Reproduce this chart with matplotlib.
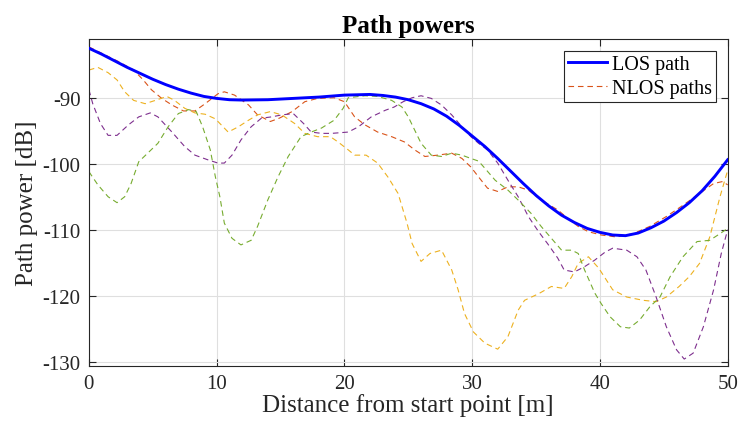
import matplotlib
matplotlib.use("Agg")
import matplotlib.pyplot as plt

plt.rcParams['font.family'] = ['Liberation Serif', 'DejaVu Serif']
plt.rcParams['axes.unicode_minus'] = False

# LOS path
los_x = [0, 1, 2, 3, 4, 5, 6, 7, 8, 9, 10, 11, 12, 14, 16, 18, 20, 22, 23, 24, 25, 26, 27, 28, 29,
         30, 31, 32, 33, 34, 35, 36, 37, 38, 39, 40, 41, 42, 43, 44, 45, 46, 47, 48, 49, 50]
los_y = [-82.5, -83.4, -84.4, -85.4, -86.3, -87.2, -88.0, -88.7, -89.3, -89.8, -90.1, -90.3, -90.35,
         -90.3, -90.1, -89.9, -89.6, -89.5, -89.65, -89.9, -90.3, -90.9, -91.7, -92.8, -94.2,
         -95.8, -97.4, -99.2, -101.1, -103.0, -104.8, -106.4, -107.8, -108.9, -109.8, -110.4,
         -110.8, -110.9, -110.5, -109.7, -108.7, -107.4, -105.9, -104.1, -101.9, -99.4]

# NLOS paths
nlos1_x = [0, 2.3, 3.5, 4.25, 4.9, 5.7, 6.5, 7.4, 8.3, 9.1, 10.1, 10.6, 11.4, 12.5, 13.2, 14.2, 14.9,
           15.9, 16.9, 17.9, 19.2, 20.0, 20.8, 21.6, 22.6, 23.7, 24.7, 25.5, 26.3, 27.3, 28.4, 29.2,
           29.9, 30.5, 31.2, 32.0, 32.8, 33.6, 34.4, 35.4, 36.7, 37.5, 38.3, 39.1, 40.1, 41.3, 42.6,
           43.9, 45.2, 46.5, 47.8, 48.9, 49.6, 50]
nlos1_y = [-82.3, -84.5, -85.8, -87.3, -88.8, -90.1, -91.1, -92.0, -92.0, -90.9, -89.4, -89.1, -89.6,
           -91.1, -92.6, -93.6, -93.1, -92.1, -90.6, -90.1, -90.0, -90.6, -92.9, -94.1, -95.2, -95.9,
           -96.7, -97.9, -98.9, -98.7, -98.4, -99.2, -100.5, -102.0, -103.7, -104.2, -103.5, -103.5,
           -104.0, -105.5, -107.0, -108.3, -109.5, -110.3, -110.8, -111.1, -110.6, -109.5, -108.0,
           -106.3, -104.5, -103.0, -102.7, -103.2]

nlos2_x = [0, 0.7, 1.5, 2.2, 2.8, 3.5, 4.4, 5.2, 6.1, 6.7, 7.5, 8.3, 9.1, 9.9, 10.9, 11.7, 12.5, 13.2,
           14.2, 15.1, 16.1, 16.9, 17.9, 18.9, 19.5, 20.3, 20.8, 21.7, 22.6, 23.4, 24.2, 24.9, 25.3,
           26.0, 26.7, 27.6, 28.4, 28.9, 29.4, 30.1, 31.0, 32.0, 32.8, 33.6, 34.1, 35.2, 36.2, 37.2,
           37.8, 38.3, 39.1, 39.9, 41.0, 42.1, 43.4, 44.4, 45.2, 46.2, 47.0, 47.8, 48.6, 49.4, 50]
nlos2_y = [-85.8, -85.4, -86.2, -87.3, -89.1, -90.4, -90.9, -90.4, -89.8, -90.4, -91.6, -92.3, -92.5,
           -93.2, -95.2, -94.4, -93.4, -92.6, -92.1, -92.6, -93.9, -95.4, -95.9, -95.9, -96.7, -97.9,
           -98.7, -98.7, -99.9, -102.0, -104.5, -109.0, -112.1, -114.8, -113.6, -113.1, -116.1,
           -119.1, -122.7, -125.5, -127.2, -128.1, -126.2, -122.2, -120.7, -119.7, -118.6, -118.9,
           -117.1, -115.1, -114.1, -115.8, -119.1, -120.2, -120.7, -120.9, -120.2, -118.6, -117.1,
           -115.1, -111.1, -105.0, -101.0]

nlos3_x = [0, 0.3, 0.9, 1.5, 2.2, 3.1, 3.9, 4.8, 5.4, 6.5, 7.5, 8.3, 9.3, 10.1, 10.6, 11.2, 11.9, 12.7,
           13.5, 14.3, 15.1, 16.0, 16.8, 17.4, 18.2, 19.0, 20.3, 21.1, 22.1, 23.2, 23.9, 24.6, 25.3,
           26.0, 26.8, 27.6, 28.4, 29.2, 29.9, 30.5, 31.2, 32.0, 32.8, 33.6, 34.4, 35.2, 35.9, 36.7,
           37.2, 38.0, 38.8, 39.6, 40.4, 41.0, 42.1, 42.9, 43.6, 44.4, 45.2, 46.0, 46.6, 47.3, 48.1,
           48.9, 49.5, 50]
nlos3_y = [-88.8, -90.9, -93.9, -95.7, -95.7, -94.1, -92.9, -92.3, -92.9, -95.2, -97.4, -98.7, -99.4,
           -99.9, -99.9, -98.7, -96.4, -94.4, -93.1, -92.9, -92.6, -92.4, -93.9, -95.2, -95.4, -95.4,
           -95.2, -94.4, -92.9, -91.9, -91.4, -90.6, -90.0, -89.7, -90.1, -91.1, -92.6, -94.4, -95.9,
           -96.9, -97.9, -99.9, -102.5, -105.0, -108.0, -110.3, -112.1, -114.3, -116.1, -116.4,
           -115.6, -114.6, -113.4, -112.8, -113.1, -114.1, -116.1, -120.2, -124.7, -128.2, -129.6,
           -128.7, -124.7, -119.1, -113.6, -110.0]

nlos4_x = [0, 0.7, 1.5, 2.2, 2.8, 3.3, 3.9, 4.6, 5.4, 6.2, 7.0, 7.8, 8.4, 8.9, 9.5, 9.9, 10.25, 10.6,
           11.2, 11.9, 12.7, 13.2, 14.0, 14.8, 15.6, 16.6, 17.4, 18.2, 19.2, 19.9, 20.3, 21.6, 22.6,
           23.7, 24.5, 25.0, 25.5, 26.0, 26.8, 27.6, 28.4, 29.2, 29.9, 30.5, 31.0, 31.8, 32.8, 33.6,
           34.6, 35.4, 36.2, 37.0, 37.8, 38.3, 38.8, 39.6, 40.1, 40.8, 41.6, 42.3, 43.1, 43.9, 44.7,
           45.5, 46.5, 47.6, 48.6, 49.4, 50]
nlos4_y = [-101.2, -103.2, -105.0, -105.9, -105.0, -103.0, -99.7, -98.4, -96.9, -94.4, -92.4, -91.8,
           -92.1, -94.4, -97.9, -102.0, -105.0, -109.0, -111.3, -112.3, -111.6, -109.5, -105.5,
           -102.0, -98.9, -95.9, -95.2, -94.6, -93.4, -91.6, -90.0, -89.7, -89.8, -90.4, -91.4,
           -92.9, -94.9, -96.9, -98.7, -98.9, -98.4, -98.7, -99.2, -99.6, -100.7, -102.5, -104.0,
           -105.5, -107.5, -109.5, -111.3, -113.1, -113.1, -113.6, -116.1, -119.6, -121.2, -123.2,
           -124.7, -124.9, -123.7, -121.7, -120.2, -117.1, -114.1, -111.8, -111.6, -110.6, -109.8]

x_ticks = [0, 10, 20, 30, 40, 50]
y_ticks = [-130, -120, -110, -100, -90]

fig = plt.figure(figsize=(7.41, 4.27), dpi=100)
ax = fig.add_axes([0.120, 0.1413, 0.862, 0.765])

nlos_colors = ['#D95319', '#EDB120', '#7E2F8E', '#77AC30']
nlos_series = [(nlos1_x, nlos1_y), (nlos2_x, nlos2_y), (nlos3_x, nlos3_y), (nlos4_x, nlos4_y)]
for i, ((xs, ys), c) in enumerate(zip(nlos_series, nlos_colors)):
    ax.plot(xs, ys, color=c, lw=0.8, dashes=(5, 3.5),
            label='NLOS paths' if i == 0 else None, zorder=2)
ax.plot(los_x, los_y, color='#0000FF', lw=2.1, label='LOS path', zorder=3,
        solid_joinstyle='round')

ax.set_xlim(0, 50)
ax.set_ylim(-130.6, -81.1)
ax.set_xticks(x_ticks)
ax.set_yticks(y_ticks)
ax.grid(True, color='#DFDFDF', lw=0.8)
ax.set_axisbelow(True)
for s in ax.spines.values():
    s.set_color('#262626')
    s.set_linewidth(0.8)
ax.tick_params(direction='in', length=5, width=0.8, colors='#262626', labelsize=15,
               top=True, right=True, pad=6)
for lab in ax.get_xticklabels() + ax.get_yticklabels():
    lab.set_color('#262626')

ax.set_xlabel('Distance from start point [m]', fontsize=18, color='#262626', labelpad=0)
ax.set_ylabel('Path power [dB]', fontsize=18, color='#262626', labelpad=3)
ax.set_title('Path powers', fontsize=18, fontweight='bold', color='black', pad=5)

handles, labels = ax.get_legend_handles_labels()
order = [labels.index('LOS path'), labels.index('NLOS paths')]
leg = ax.legend([handles[j] for j in order], [labels[j] for j in order],
                loc='upper right', fontsize=14.5, frameon=True, fancybox=False,
                edgecolor='#262626', framealpha=1, borderpad=0.2, handlelength=1.9,
                handletextpad=0.25, labelspacing=0.25, borderaxespad=0.6)
leg.get_frame().set_linewidth(0.8)

fig.savefig('out.png', dpi=100)
